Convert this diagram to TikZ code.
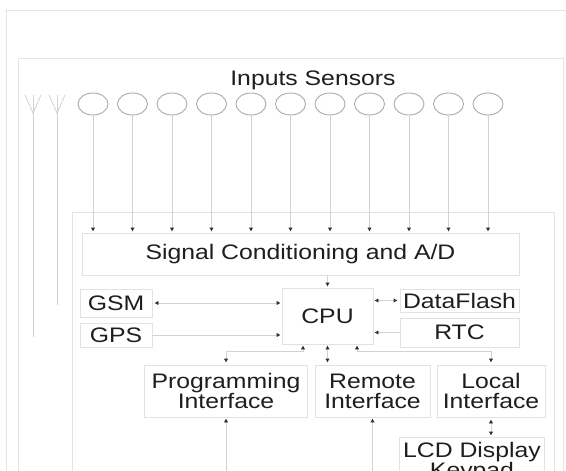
\documentclass[tikz,border=0pt]{standalone}
\usepackage{fontspec}
\setmainfont{Liberation Sans}[FakeStretch=1.18]
\usepackage{tikz}
\usetikzlibrary{positioning,arrows.meta,shapes.geometric}
\definecolor{textgray}{HTML}{1E1E1E}
\definecolor{boxgray}{HTML}{E2E2E2}
\definecolor{framegray}{HTML}{E4E4E4}
\definecolor{linegray}{HTML}{D2D2D2}
\definecolor{ringgray}{HTML}{ABABAB}
\definecolor{tipgray}{HTML}{303030}

\begin{document}
\begin{tikzpicture}[
    x=1pt, y=-1pt,
    every node/.style={font=\fontsize{21}{20}\selectfont, text=textgray},
    box/.style={draw=boxgray, line width=0.8pt, inner sep=2pt, align=center},
    sensor/.style={ellipse, draw=ringgray, line width=0.9pt, minimum width=30pt, minimum height=22pt, inner sep=0pt},
    wire/.style={draw=linegray, line width=0.8pt},
    frame/.style={draw=framegray, line width=0.8pt},
    arrtip/.tip={Latex[length=4pt,width=4.5pt,color=tipgray]},
    arr/.style={wire, -arrtip, shorten >=1pt},
    arrboth/.style={wire, arrtip-arrtip, shorten >=1pt, shorten <=2pt}
]
\useasboundingbox (0,0) rectangle (566,471);
\clip (0,0) rectangle (566,471);
\fill[white] (0,0) rectangle (566,471);

\draw[frame] (5,10) -- (570,10);
\draw[frame] (6,10) -- (6,480);
\draw[frame] (18,480) -- (18,58) -- (563,58) -- (563,480);
\draw[frame] (72,480) -- (72,212) -- (554,212) -- (554,480);

\foreach \ax/\len in {33/337, 57/305} {
    \draw[wire] (\ax-8,95) -- (\ax,113) -- (\ax+8,95);
    \draw[wire] (\ax,95) -- (\ax,\len);
}

\node (title) at (313,80) {Inputs Sensors};
\foreach \i in {1,...,11}
    \node[sensor] (s\i) at ({93+39.5*(\i-1)},104) {};

\node[box, minimum width=437pt, minimum height=42pt] (sig) at (300.5,254) {Signal Conditioning and A/D};
\node[box, minimum width=72pt, minimum height=28pt] (gsm) at (116,303) {GSM};
\node[box, minimum width=72pt, minimum height=24pt] (gps) at (116,335) {GPS};
\node[box, minimum width=91pt, minimum height=56pt] (cpu) at (327.5,316) {CPU};
\node[box, minimum width=119pt, minimum height=23pt] (flash) at (459.5,300.5) {DataFlash};
\node[box, minimum width=119pt, minimum height=29pt] (rtc) at (459.5,332.5) {RTC};
\node[box, minimum width=163pt, minimum height=52pt] (prog) at (226,391) {Programming\\Interface};
\node[box, minimum width=115pt, minimum height=52pt] (remote) at (372.5,391) {Remote\\Interface};
\node[box, minimum width=108pt, minimum height=52pt] (local) at (491,391) {Local\\Interface};
\node[box, minimum width=145pt, minimum height=51pt] (lcd) at (472,462.5) {LCD Display\\Keypad};

\foreach \i in {1,...,11}
    \draw[arr] (s\i) -- (s\i |- sig.north);
\draw[arr] (sig.south -| cpu.north) -- (cpu.north);
\draw[arrboth] (gsm.east) -- (gsm.east -| cpu.west);
\draw[arr] (gps.east) -- (gps.east -| cpu.west);
\draw[arrboth] (flash.west) -- (flash.west -| cpu.east);
\draw[arr] (rtc.west) -- (rtc.west -| cpu.east);
\draw[arrboth] (prog.north) -- ++(0,-13) -| ([xshift=-24.5pt]cpu.south);
\draw[arrboth] (cpu.south |- remote.north) -- (cpu.south);
\draw[arrboth] (local.north) -- ++(0,-13) -| ([xshift=29.5pt]cpu.south);
\draw[arrboth] (local.south) -- (local.south |- lcd.north);

\coordinate (progin) at (prog.south |- 0,480);
\coordinate (remotein) at (remote.south |- 0,480);
\draw[arr] (progin) -- (prog.south);
\draw[arr] (remotein) -- (remote.south);
\end{tikzpicture}
\end{document}
